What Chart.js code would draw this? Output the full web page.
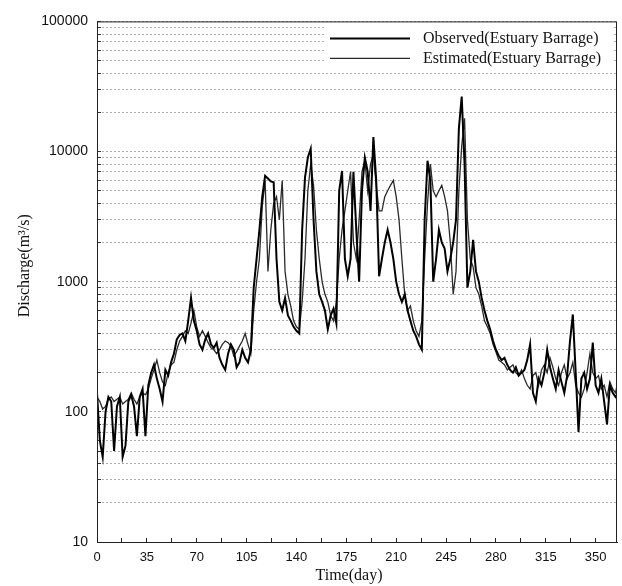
<!DOCTYPE html>
<html>
<head>
<meta charset="utf-8">
<script src="https://cdn.jsdelivr.net/npm/chart.js@4.4.0/dist/chart.umd.min.js"></script>
<style>
    html, body { margin: 0; padding: 0; background: #fff; }
    #wrap { width: 622px; height: 586px; }
</style>
</head>
<body>
<div id="wrap"><canvas id="chart" width="622" height="586"></canvas></div>
<script>
// Datos (dia, caudal m3/s), cada 2 dias
const days = [0, 2, 4, 6, 8, 10, 12, 14, 16, 18,
    20, 22, 24, 26, 28, 30, 32, 34, 36, 38,
    40, 42, 44, 46, 48, 50, 52, 54, 56, 58,
    60, 62, 64, 66, 68, 70, 72, 74, 76, 78,
    80, 82, 84, 86, 88, 90, 92, 94, 96, 98,
    100, 102, 104, 106, 108, 110, 112, 114, 116, 118,
    120, 122, 124, 126, 128, 130, 132, 134, 136, 138,
    140, 142, 144, 146, 148, 150, 152, 154, 156, 158,
    160, 162, 164, 166, 168, 170, 172, 174, 176, 178,
    180, 182, 184, 186, 188, 190, 192, 194, 196, 198,
    200, 202, 204, 206, 208, 210, 212, 214, 216, 218,
    220, 222, 224, 226, 228, 230, 232, 234, 236, 238,
    240, 242, 244, 246, 248, 250, 252, 254, 256, 258,
    260, 262, 264, 266, 268, 270, 272, 274, 276, 278,
    280, 282, 284, 286, 288, 290, 292, 294, 296, 298,
    300, 302, 304, 306, 308, 310, 312, 314, 316, 318,
    320, 322, 324, 326, 328, 330, 332, 334, 336, 338,
    340, 342, 344, 346, 348, 350, 352, 354, 356, 358,
    360, 362, 364, 365];

const observed = [140, 60, 45, 100, 130, 120, 50, 110, 130, 45,
    55, 120, 135, 110, 65, 130, 150, 65, 160, 200,
    230, 180, 150, 120, 210, 190, 240, 280, 360, 390,
    400, 350, 500, 750, 500, 420, 330, 300, 360, 400,
    330, 310, 340, 260, 230, 210, 280, 330, 300, 220,
    240, 300, 260, 240, 300, 900, 1500, 2500, 4500, 6500,
    6200, 5900, 5800, 1500, 700, 600, 750, 550, 500, 450,
    420, 400, 2500, 6300, 9000, 10500, 3000, 1200, 800, 700,
    600, 430, 550, 620, 480, 5000, 7100, 1500, 1100, 1500,
    7000, 2500, 1000, 5000, 9000, 7000, 3500, 12900, 6000, 1100,
    1500, 2000, 2500, 2000, 1500, 1000, 800, 700, 800, 600,
    500, 420, 380, 330, 300, 3000, 8500, 6000, 1000, 1500,
    2500, 2000, 1800, 1200, 1500, 2000, 3000, 15000, 26500, 8000,
    900, 1200, 2100, 1200, 1000, 750, 600, 500, 430, 350,
    300, 270, 250, 260, 230, 210, 200, 220, 190, 200,
    210, 250, 330, 140, 120, 180, 160, 200, 300, 220,
    180, 150, 210, 170, 140, 190, 350, 560, 200, 70,
    180, 200, 150, 180, 340, 160, 140, 180, 120, 80,
    160, 140, 130, 135];

const estimated = [130, 120, 105, 110, 125, 130, 120, 125, 130, 115,
    120, 125, 140, 125, 115, 130, 140, 135, 150, 180,
    210, 250, 200, 170, 160, 200, 230, 240, 300, 350,
    380, 420, 400, 480, 600, 450, 380, 420, 380, 340,
    310, 300, 280, 300, 330, 350, 340, 320, 270, 290,
    320, 350, 400, 330, 280, 600, 1000, 1500, 3800, 6000,
    1200, 2500, 4000, 4500, 3000, 6000, 1200, 800, 650, 500,
    450, 430, 700, 1500, 5000, 8000, 5500, 2500, 1500, 1000,
    800, 700, 550, 500, 700, 1500, 2500, 3500, 5000, 7000,
    2000, 1500, 3000, 7000, 8500, 5000, 8000, 9500, 5500, 3500,
    3500, 4500, 5000, 5500, 6000, 4500, 3000, 1500, 800, 600,
    650, 500, 420, 380, 500, 1500, 4000, 8000, 5000, 4500,
    5000, 5500, 4500, 3500, 2000, 800, 1200, 5000, 11000, 18000,
    3000, 1500, 1300, 900, 800, 650, 500, 450, 400, 330,
    290, 250, 240, 230, 210, 220, 230, 200, 190, 210,
    180, 160, 150, 190, 200, 160, 210, 230, 200, 260,
    220, 180, 160, 200, 230, 180, 200, 240, 160, 140,
    130, 150, 200, 280, 200, 180, 190, 150, 160, 130,
    170, 150, 140, 160];

const xTickLabels = [0, 35, 70, 105, 140, 175, 210, 245, 280, 315, 350];
const yTickLabels = [10, 100, 1000, 10000, 100000];

const serif = '"Liberation Serif", "Times New Roman", serif';
const sans = '"Liberation Sans", Arial, sans-serif';

// Leyenda dentro del area del grafico, arriba a la derecha
const insideLegend = {
    id: 'insideLegend',
    afterDatasetsDraw(chart) {
        const { ctx, chartArea } = chart;
        ctx.save();
        ctx.fillStyle = '#fff';
        ctx.fillRect(chartArea.right - 292, chartArea.top + 4, 288, 46);
        ctx.font = '16px ' + serif;
        ctx.textBaseline = 'middle';
        chart.data.datasets.forEach((ds, i) => {
            const y = chartArea.top + 17 + i * 20;
            ctx.strokeStyle = ds.borderColor;
            ctx.lineWidth = ds.borderWidth;
            ctx.beginPath();
            ctx.moveTo(chartArea.right - 287, y);
            ctx.lineTo(chartArea.right - 207, y);
            ctx.stroke();
            ctx.fillStyle = '#111';
            ctx.fillText(ds.label, chartArea.right - 194, y);
        });
        ctx.restore();
    },
    afterDraw(chart) {
        // marco completo del area
        const { ctx, chartArea } = chart;
        ctx.save();
        ctx.strokeStyle = '#222';
        ctx.lineWidth = 1;
        ctx.strokeRect(chartArea.left + 0.5, chartArea.top + 0.5,
            chartArea.right - chartArea.left - 1, chartArea.bottom - chartArea.top);
        ctx.restore();
    }
};

const ctx = document.getElementById('chart').getContext('2d');

new Chart(ctx, {
    type: 'line',
    data: {
        datasets: [{
            label: 'Observed(Estuary Barrage)',
            data: days.map((d, i) => ({ x: d, y: observed[i] })),
            borderColor: '#000',
            borderWidth: 2,
            pointRadius: 0,
            tension: 0,
            fill: false
        }, {
            label: 'Estimated(Estuary Barrage)',
            data: days.map((d, i) => ({ x: d, y: estimated[i] })),
            borderColor: '#2a2a2a',
            borderWidth: 1.3,
            pointRadius: 0,
            tension: 0,
            fill: false
        }]
    },
    options: {
        responsive: false,
        animation: false,
        layout: {
            padding: { left: 0, right: 5, top: 16, bottom: 0 }
        },
        plugins: {
            legend: { display: false },
            tooltip: { enabled: false }
        },
        scales: {
            x: {
                type: 'linear',
                min: 0,
                max: 365,
                afterFit(scale) { scale.height = 44; },
                grid: {
                    drawOnChartArea: false,
                    tickLength: -4,
                    tickColor: '#222'
                },
                border: { color: '#222' },
                ticks: {
                    stepSize: 17.5,
                    includeBounds: false,
                    autoSkip: false,
                    maxRotation: 0,
                    padding: 12,
                    color: '#111',
                    font: { family: sans, size: 13 },
                    callback: (v) => xTickLabels.includes(v) ? v : ''
                },
                title: {
                    display: true,
                    text: 'Time(day)    ',
                    color: '#111',
                    font: { family: serif, size: 16 },
                    padding: { top: 0, bottom: 1 }
                }
            },
            y: {
                type: 'logarithmic',
                min: 10,
                max: 100000,
                afterFit(scale) { scale.width = 97; },
                afterBuildTicks(scale) {
                    // lineas de rejilla en 1..9 x 10^n
                    const ticks = [];
                    for (let p = 10; p < 100000; p *= 10) {
                        for (let m = 1; m < 10; m++) ticks.push({ value: m * p });
                    }
                    ticks.push({ value: 100000 });
                    scale.ticks = ticks;
                },
                grid: {
                    color: '#adadad',
                    lineWidth: 1,
                    tickLength: -4,
                    tickColor: '#333'
                },
                border: { color: '#222', dash: [2, 2] },
                ticks: {
                    autoSkip: false,
                    padding: 13,
                    color: '#111',
                    font: { family: sans, size: 14 },
                    callback: (v) => yTickLabels.includes(v) ? String(v) : ''
                },
                title: {
                    display: true,
                    text: '        Discharge(m³/s)',
                    color: '#111',
                    font: { family: serif, size: 16 },
                    padding: { top: 15, bottom: 0 }
                }
            }
        }
    },
    plugins: [insideLegend]
});
</script>
</body>
</html>
